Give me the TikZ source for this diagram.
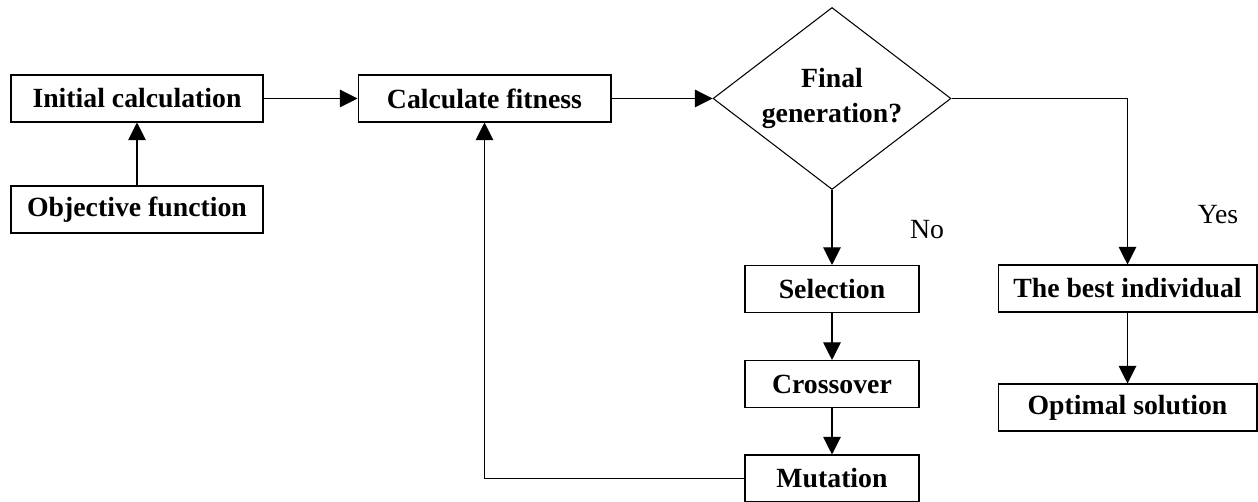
\documentclass[tikz,border=0pt]{standalone}
\usepackage{fontspec}
\setmainfont{Liberation Serif}
\usetikzlibrary{arrows.meta,shapes.geometric}
\tikzset{
	box/.style={draw, line width=0.6pt, rectangle, inner sep=0pt, minimum height=0.94cm, font=\fontsize{15.8}{19.8}\selectfont\bfseries},
	decision/.style={draw, line width=0.6pt, diamond, shape aspect=1.31, inner sep=0pt, minimum width=4.76cm, minimum height=3.64cm, align=center, font=\fontsize{15.8}{19.8}\selectfont\bfseries},
	answer/.style={inner sep=0pt, font=\fontsize{15.8}{19.8}\selectfont},
	flow/.style={line width=0.6pt, -{Triangle[length=10pt,width=10pt]}}
}

\begin{document}
\begin{tikzpicture}[x=0.02cm, y=-0.02cm]
		%%%%% START %%%%%
		
		\useasboundingbox (0, 0) rectangle (1258, 502);
		
		\node[box, minimum width=5.04cm] (init) at (137, 98.5) {Initial calculation};
		\node[box, minimum width=5.04cm] (obj) at (137, 209.5) {Objective function};
		\node[box, minimum width=5.06cm] (calc) at (484.5, 98.5) {Calculate fitness};
		\node[decision] (final) at (832, 98.5) {Final\\generation?};
		
		\node[box, minimum width=3.48cm] (sel) at (832, 289) {Selection};
		\node[box, minimum width=3.48cm] (cross) at (832, 384) {Crossover};
		\node[box, minimum width=3.48cm] (mut) at (832, 478.5) {Mutation};
		
		\node[box, minimum width=5.18cm] (best) at (1127.5, 288.5) {The best individual};
		\node[box, minimum width=5.18cm] (opt) at (1127.5, 407.5) {Optimal solution};
		
		\node[answer] (no) at (927, 230) {No};
		\node[answer] (yes) at (1218, 215) {Yes};
		
		\draw[flow] (obj) -- (init);
		\draw[flow] (init) -- (calc);
		\draw[flow] (calc) -- (final);
		\draw[flow] (final.south) -- (sel);
		\draw[flow] (sel) -- (cross);
		\draw[flow] (cross) -- (mut);
		\draw[flow] (mut.west) -| (calc.south);
		\draw[flow] (final.east) -| (best.north);
		\draw[flow] (best) -- (opt);
		
		%%%%% END %%%%%
	\end{tikzpicture}
\end{document}
